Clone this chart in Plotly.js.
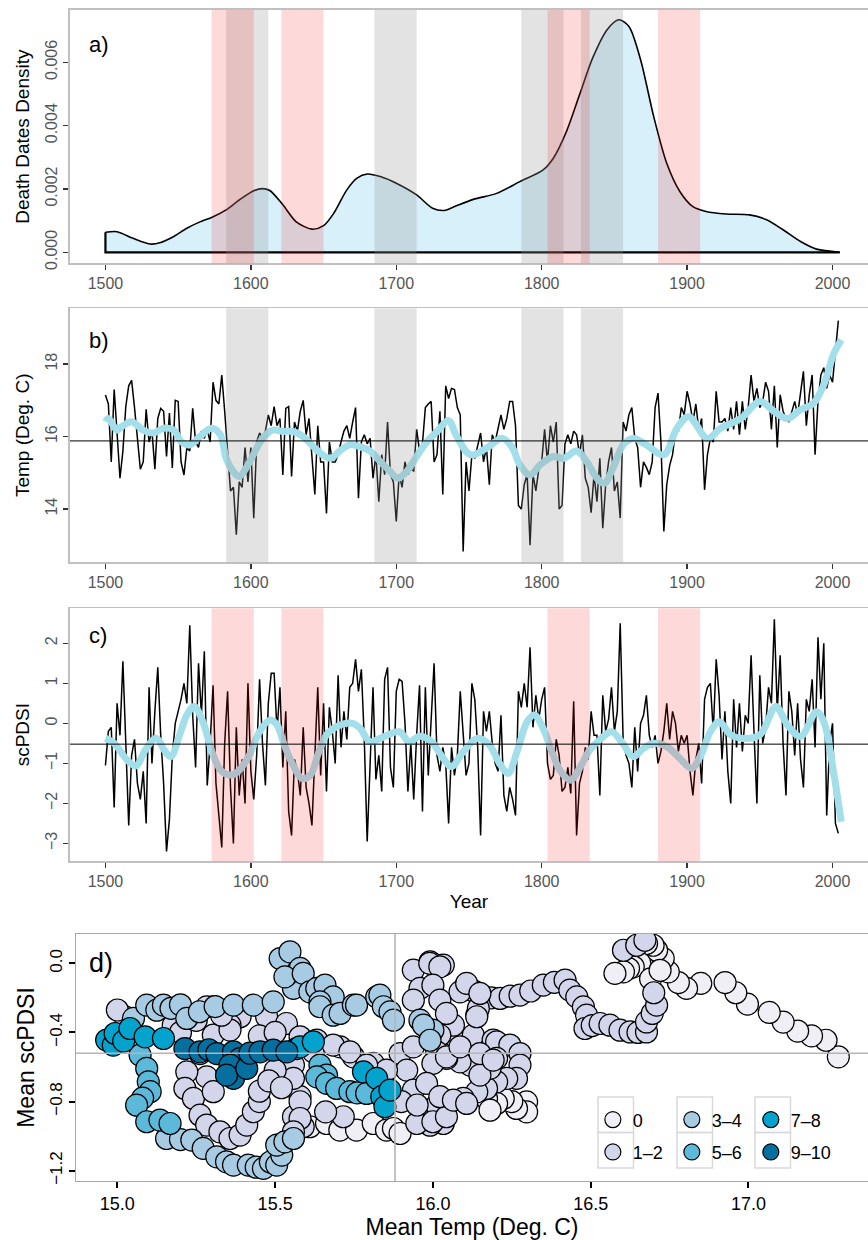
<!DOCTYPE html>
<html><head><meta charset="utf-8">
<script src="https://cdn.plot.ly/plotly-3.0.1.min.js"></script>
<style>html,body{margin:0;padding:0;background:#fff}#chart{width:868px;height:1240px}</style>
</head><body><div id="chart"></div>
<script>
// ---------- DATA ----------
// Cold (gray) and drought (pink) periods, years
const coldStart = [1583, 1685, 1786, 1827];
const coldEnd   = [1612, 1714, 1815, 1856];
const droughtStart = [1573, 1621, 1804, 1880];
const droughtEnd   = [1602, 1650, 1833, 1909];

// a) death dates density
const densYears = [1500,1508,1519,1531,1538,1547,1556,1565,1573,1583,1592,1602,1608,1613,1622,1631,1642,1650,1657,1666,1673,1680,1689,1700,1714,1725,1733,1739,1753,1769,1785,1801,1808,1817,1826,1835,1845,1853,1860,1868,1877,1886,1895,1904,1913,1927,1943,1955,1966,1978,1989,2005];
const densVals  = [0.00063,0.00065,0.00044,0.00026,0.00031,0.0005,0.00076,0.00096,0.0011,0.00134,0.00165,0.00194,0.00201,0.00195,0.0015,0.00097,0.00073,0.00084,0.00123,0.00197,0.00234,0.00247,0.00239,0.00218,0.00181,0.00139,0.00132,0.00142,0.00167,0.00186,0.00223,0.0026,0.00297,0.00381,0.00497,0.00613,0.00703,0.00734,0.00713,0.00608,0.00429,0.00281,0.00192,0.00144,0.00129,0.00121,0.00118,0.00102,0.00071,0.00034,0.0001,0.0];

// b) temperature, every 2 years from 1500
const seriesStart = 1500, seriesStep = 2;
const tempVals = [
17.15,16.9,15.3,17.3,16.1,14.85,15.6,16.83,17.4,17.55,
16.8,15.95,15.1,15.3,16.75,15.85,16.15,15.1,16.5,16.78,
16.7,15.45,16.65,15.13,17.0,16.97,15.3,14.94,15.7,15.6,
16.78,15.85,15.7,16.15,15.95,16.2,15.85,17.5,17.0,16.9,
17.7,16.7,15.7,14.5,14.6,13.29,14.75,14.6,15.7,14.75,
15.7,13.75,15.85,16.1,15.95,16.15,16.6,16.3,16.83,16.3,
16.5,14.94,16.78,16.83,14.9,16.4,16.15,16.7,17.0,16.05,
16.5,15.4,14.4,16.3,15.3,15.3,13.88,15.85,15.3,15.3,
15.5,15.85,16.15,16.3,15.95,16.4,16.8,14.3,15.85,16.05,
15.8,15.95,14.85,15.5,14.2,15.5,14.95,16.4,14.95,14.75,
13.66,14.95,14.6,15.3,14.95,15.1,15.05,16.2,15.6,15.8,
16.8,16.9,16.97,15.3,15.5,16.7,14.4,17.4,17.05,17.33,
17.3,16.8,16.6,12.83,15.3,14.5,15.5,15.4,15.8,16.1,
15.3,15.7,14.67,16.05,15.85,16.2,16.6,16.2,16.5,16.97,
16.97,16.3,14.1,14.0,14.67,14.95,13.0,14.95,14.5,15.1,
15.3,16.2,15.3,16.3,15.85,16.4,14.0,14.1,15.8,16.05,
15.8,16.15,16.05,15.5,16.05,14.85,14.6,13.9,14.95,14.2,
15.4,13.47,14.67,15.3,15.7,14.5,14.75,13.75,16.4,16.15,
16.6,16.8,15.95,15.7,14.6,15.3,15.15,14.95,15.3,16.8,
17.2,15.85,13.38,14.67,15.2,15.5,16.15,16.15,16.8,16.6,
17.25,16.9,16.4,16.9,16.2,16.5,14.53,15.5,15.95,15.85,
17.25,16.4,16.4,16.5,16.15,16.8,16.2,16.97,16.05,16.97,
16.2,16.8,17.7,16.97,17.33,16.8,16.97,17.5,17.25,16.2,
17.4,15.7,17.15,16.7,16.5,16.4,16.7,16.97,16.6,17.15,
17.8,16.3,17.15,17.7,15.5,16.97,17.7,17.9,17.33,17.7,
17.5,18.35,19.2];
const tempSmoothYears = [1500,1502,1508,1512,1518,1526,1533,1540,1547,1552,1558,1565,1573,1579,1583,1588,1592,1598,1604,1608,1615,1622,1629,1636,1644,1651,1655,1661,1668,1675,1682,1689,1696,1701,1707,1714,1721,1728,1736,1741,1751,1762,1773,1780,1785,1792,1799,1808,1815,1824,1831,1838,1843,1849,1856,1863,1872,1884,1893,1901,1914,1923,1937,1950,1960,1969,1978,1987,1994,2001,2006];
const tempSmoothVals  = [16.41,16.5,16.18,16.3,16.41,16.18,16.1,16.23,16.18,15.86,15.77,16.0,16.23,16.05,15.4,15.03,14.9,15.22,15.68,15.95,16.18,16.14,16.14,16.0,15.68,15.45,15.4,15.6,15.77,15.72,15.6,15.31,15.03,14.85,15.03,15.45,15.86,16.14,16.44,16.05,15.5,15.68,15.95,15.68,15.22,14.94,15.22,15.45,15.4,15.6,15.31,14.85,14.71,15.13,15.77,15.95,15.77,15.5,16.23,16.55,15.95,16.23,16.5,16.97,16.69,16.5,16.74,16.92,17.43,18.3,18.67];
const tempMean = 15.88;

// c) scPDSI, every 2 years from 1500
const pdsiVals = [
-1.05,-0.2,-0.1,-2.1,0.5,-0.3,1.55,-0.6,-2.55,-0.8,
-0.4,-1.5,-1.9,-1.2,-2.5,0.9,-1.0,0.3,1.4,-0.3,
-1.5,-3.2,-2.4,-0.8,0.0,0.3,0.6,1.0,0.5,2.45,
0.2,-1.1,1.5,0.2,1.8,-1.55,-0.5,0.95,-1.5,-2.3,
-3.1,-0.5,0.8,-1.6,-3.0,-0.1,-1.8,-0.9,-2.0,1.0,
-1.2,-1.9,-0.8,1.1,-0.5,-1.55,0.5,1.25,1.25,-0.2,
0.9,-1.1,0.3,-2.2,-2.8,-0.9,-1.2,-1.8,-0.1,-1.6,
-2.0,-2.55,-1.0,0.9,-1.3,0.5,-1.7,0.4,-0.2,-1.0,
1.2,-0.6,0.3,-0.4,0.9,1.0,1.6,0.8,1.35,-0.4,
-2.95,-1.0,0.9,-1.4,-0.8,-1.7,1.1,1.4,-1.1,-1.6,
0.8,1.1,1.05,0.0,-1.7,-0.5,-1.9,-0.3,0.95,-2.2,
0.9,-1.3,0.1,1.5,-0.8,-1.2,-0.6,-1.0,-2.5,-0.6,
-1.3,-0.8,0.8,-0.2,-1.3,-1.0,1.0,0.6,-0.6,-2.8,
0.3,-0.2,0.3,-0.5,-1.0,-1.2,0.2,-1.8,-2.2,-1.6,
-1.9,-2.3,0.8,0.4,1.0,0.4,1.9,-0.1,0.7,0.1,
0.6,0.9,-1.0,-1.4,-1.3,-0.4,-0.8,-1.7,-1.6,-1.1,
-1.75,0.55,-2.8,-1.5,-1.2,-0.6,-0.9,0.3,-0.3,-0.3,
-1.8,0.7,-0.2,0.1,0.9,-0.2,0.3,2.5,-0.4,-0.8,
-1.0,-1.6,-0.1,-1.2,0.0,0.2,0.7,-0.3,-0.6,-0.3,
-1.0,-0.7,-0.2,0.5,-0.4,0.3,0.0,-0.7,-0.3,-0.5,
-0.3,-1.2,-1.8,-0.9,-0.5,-1.5,0.6,0.9,1.0,-0.2,
1.6,0.7,-0.9,0.3,-1.2,-2.0,0.6,-0.6,0.5,-0.7,
0.2,0.0,1.7,-0.2,-2.0,1.2,-0.5,-0.1,0.9,0.5,
2.6,0.3,1.7,-0.5,-1.8,0.8,0.3,-0.8,0.5,-0.9,
-1.6,0.6,0.3,1.1,-0.6,2.15,0.6,2.0,-2.3,-0.5,
0.0,-2.5,-2.75];
const pdsiSmoothYears = [1500,1506,1515,1521,1528,1535,1541,1545,1551,1556,1561,1567,1574,1580,1587,1592,1599,1606,1613,1618,1623,1629,1635,1641,1646,1652,1659,1670,1675,1682,1689,1702,1709,1716,1724,1730,1738,1746,1756,1764,1771,1777,1783,1790,1795,1801,1807,1813,1820,1826,1833,1841,1848,1855,1863,1870,1877,1886,1895,1903,1909,1916,1922,1930,1937,1950,1961,1969,1978,1989,1994,2001,2006];
const pdsiSmoothVals  = [-0.375,-0.5,-0.92,-1.06,-0.63,-0.375,-0.7,-0.83,-0.29,0.21,0.42,0.04,-0.79,-1.2,-1.29,-1.17,-0.79,-0.21,0.08,-0.04,-0.54,-1.04,-1.375,-1.29,-0.79,-0.29,-0.08,0.0,-0.12,-0.46,-0.375,-0.21,-0.46,-0.32,-0.45,-0.75,-1.08,-0.71,-0.375,-0.54,-1.0,-1.25,-0.71,0.04,0.21,-0.125,-0.71,-1.2,-1.42,-1.125,-0.67,-0.375,-0.21,-0.46,-0.83,-0.625,-0.5,-0.58,-0.875,-1.125,-0.83,-0.21,0.04,-0.29,-0.375,-0.29,0.42,-0.04,-0.33,0.29,0.04,-1.29,-2.46];
const pdsiMean = -0.52;

// d) mean temp vs mean scPDSI, by number of events
const catLabels = ['0', '1–2', '3–4', '5–6', '7–8', '9–10'];
const catColors = ['#f1eff6', '#d3d6ea', '#a6cbe3', '#5cb9d9', '#04a3cd', '#0570a0'];
const dTemp0 = [17.285,17.246,17.2,17.156,17.11,17.066,16.997,16.96,16.926,16.849,16.804,16.778,16.746,16.73,16.709,16.698,16.677,16.656,16.635,16.62,16.604,16.577,16.69,16.72,16.297,16.297,16.265,16.25,16.223,16.202,16.17,15.61,15.663,15.705,15.758,15.811,15.853,15.875,15.896,16.065,16.0,16.065,16.139,16.191,16.181];
const dPdsi0 = [-0.541,-0.445,-0.42,-0.392,-0.34,-0.284,-0.236,-0.17,-0.111,-0.116,-0.145,-0.111,-0.049,0.028,0.076,0.105,0.115,0.0,-0.02,-0.03,-0.049,-0.058,-0.09,-0.04,-0.802,-0.86,-0.84,-0.8,-0.782,-0.811,-0.782,-0.946,-0.927,-0.965,-0.965,-0.927,-0.965,-0.956,-0.985,-0.444,-0.425,-0.416,-0.599,-0.676,-0.85];
const dTemp1 = [16.102,16.13,16.155,16.185,16.213,16.245,16.276,16.31,16.35,16.385,16.419,16.434,16.456,16.477,16.487,16.482,16.505,16.53,16.561,16.593,16.625,16.65,16.677,16.677,16.695,16.709,16.70,16.604,16.646,16.672,
15.991,16.033,16.086,16.139,16.144,16.065,16.022,16.128,15.938,15.99,16.022,15.959,16.0,15.938,16.022,16.043,16.107,16.149,16.139,16.191,
16.202,16.244,16.276,16.276,16.265,16.234,16.202,16.17,16.139,16.096,16.054,16.012,16.033,15.991,
16.118,16.086,16.044,16.012,16.202,16.181,16.149,15.896,15.938,16.0,16.043,16.086,16.149,16.191,15.917,
15.579,15.558,15.589,15.716,15.949,16.0,16.043,15.938,15.98,16.022,16.065,16.107,
15.024,15.177,15.304,15.389,15.357,15.304,15.283,15.262,15.283,15.357,15.473,15.536,15.579,15.632,15.706,15.748,15.811,15.853,15.621,15.684,15.737,15.79,
15.22,15.214,15.241,15.262,15.283,15.325,15.357,15.389,15.41,15.431,15.304,15.45,
15.558,15.558,15.579,15.579,15.558,
15.0,15.2,15.25,15.33,15.45,15.5,15.45,15.5,15.48,15.52,15.9,15.95,15.66];
const dPdsi1 = [-0.136,-0.16,-0.184,-0.2,-0.203,-0.19,-0.184,-0.16,-0.126,-0.11,-0.097,-0.155,-0.194,-0.252,-0.3,-0.377,-0.36,-0.348,-0.358,-0.387,-0.397,-0.40,-0.397,-0.339,-0.29,-0.242,-0.17,0.076,0.105,0.134,
0.009,-0.01,-0.165,-0.3,-0.261,-0.358,-0.416,-0.416,-0.039,0.0,-0.02,-0.145,-0.126,-0.213,-0.213,-0.29,-0.116,-0.174,-0.309,-0.444,
-0.454,-0.473,-0.522,-0.589,-0.666,-0.666,-0.686,-0.724,-0.744,-0.782,-0.802,-0.821,-0.927,-0.937,
-0.589,-0.57,-0.55,-0.512,-0.55,-0.608,-0.647,-0.522,-0.483,-0.579,-0.541,-0.483,-0.522,-0.56,-0.618,
-0.772,-0.888,-0.946,-0.888,-0.927,-0.917,-0.888,-0.734,-0.695,-0.772,-0.792,-0.811,
-0.309,-0.358,-0.251,-0.309,-0.358,-0.415,-0.252,-0.522,-0.657,-0.386,-0.309,-0.348,-0.425,-0.444,-0.483,-0.541,-0.579,-0.618,-0.512,-0.473,-0.512,-0.589,
-0.628,-0.724,-0.782,-0.879,-0.936,-0.975,-1.014,-0.994,-0.936,-0.859,-0.743,-0.80,
-0.589,-0.666,-0.801,-0.898,-0.975,
-0.27,-0.40,-0.33,-0.30,-0.42,-0.40,-0.74,-0.62,-0.68,-0.72,-0.8,-0.82,-0.86];
const dTemp2 = [15.051,15.093,15.125,15.146,15.17,15.2,15.22,15.26,15.31,15.368,15.431,15.494,15.558,15.537,15.516,15.547,15.579,15.531,15.589,15.61,15.632,15.658,15.684,15.642,15.642,15.684,15.706,15.748,15.758,15.822,15.832,15.843,15.864,15.875,15.959,16.0,15.97,15.991,
15.156,15.2,15.236,15.272,15.315,15.346,15.368,15.415,15.44,15.463,15.485,15.505,15.521,15.505,15.531,15.558];
const dPdsi2 = [-0.319,-0.242,-0.271,-0.242,-0.26,-0.24,-0.319,-0.28,-0.25,-0.242,-0.242,-0.223,-0.145,-0.068,0.028,0.067,-0.029,-0.078,-0.058,-0.165,-0.145,-0.126,-0.194,-0.223,-0.251,-0.3,-0.29,-0.242,-0.242,-0.194,-0.184,-0.251,-0.281,-0.329,-0.329,-0.387,-0.358,-0.445,
-1.014,-1.02,-1.023,-1.071,-1.12,-1.149,-1.168,-1.168,-1.18,-1.187,-1.15,-1.168,-1.11,-1.052,-1.033,-1.014];
const dTemp3 = [15.072,15.093,15.098,15.104,15.08,15.061,15.093,15.135,15.167,15.642,15.663,15.632,15.663,15.695,15.737,15.76,15.79];
const dPdsi3 = [-0.531,-0.608,-0.686,-0.743,-0.78,-0.821,-0.917,-0.907,-0.927,-0.589,-0.647,-0.657,-0.695,-0.724,-0.743,-0.75,-0.753];
const dTemp4 = [14.966,14.987,14.993,15.02,15.04,15.088,15.146,15.568,15.579,15.621,15.78,15.822,15.838,15.848,15.864];
const dPdsi4 = [-0.444,-0.473,-0.406,-0.45,-0.377,-0.425,-0.435,-0.493,-0.483,-0.454,-0.628,-0.666,-0.772,-0.83,-0.734];
const dTemp5 = [15.214,15.262,15.29,15.315,15.368,15.389,15.357,15.368,15.346,15.41,15.42,15.452,15.494,15.537];
const dPdsi5 = [-0.493,-0.512,-0.5,-0.522,-0.512,-0.551,-0.589,-0.666,-0.647,-0.608,-0.52,-0.512,-0.502,-0.512];
const dTemps = [dTemp0, dTemp1, dTemp2, dTemp3, dTemp4, dTemp5];
const dPdsis = [dPdsi0, dPdsi1, dPdsi2, dPdsi3, dPdsi4, dPdsi5];

// ---------- STYLE ----------
const FONT = 'Liberation Sans, Arial, Helvetica, sans-serif';
const GRAY_FILL = 'rgba(150,150,150,0.27)';
const PINK_FILL = 'rgba(240,20,20,0.16)';
const SMOOTH = '#a3dfea';
const W = 868, H = 1240;

const traces = [];
// a)
traces.push({x: densYears, y: densVals, xaxis: 'x', yaxis: 'y', type: 'scatter', mode: 'lines',
  fill: 'tozeroy', fillcolor: '#d8f0fa', line: {color: '#000', width: 1.6, shape: 'spline', smoothing: 0.8},
  showlegend: false, hoverinfo: 'skip'});
traces.push({x: [densYears[0], densYears[0], densYears[densYears.length - 1]],
  y: [densVals[0], 0, 0], xaxis: 'x', yaxis: 'y', type: 'scatter', mode: 'lines',
  line: {color: '#000', width: 2.2}, showlegend: false, hoverinfo: 'skip'});
// b)
traces.push({y: tempVals, x0: seriesStart, dx: seriesStep, xaxis: 'x2', yaxis: 'y2', type: 'scatter', mode: 'lines',
  line: {color: '#000', width: 1.5}, showlegend: false, hoverinfo: 'skip'});
traces.push({x: tempSmoothYears, y: tempSmoothVals, xaxis: 'x2', yaxis: 'y2', type: 'scatter', mode: 'lines',
  line: {color: SMOOTH, width: 7, shape: 'spline', smoothing: 1}, showlegend: false, hoverinfo: 'skip'});
// c)
traces.push({y: pdsiVals, x0: seriesStart, dx: seriesStep, xaxis: 'x3', yaxis: 'y3', type: 'scatter', mode: 'lines',
  line: {color: '#000', width: 1.5}, showlegend: false, hoverinfo: 'skip'});
traces.push({x: pdsiSmoothYears, y: pdsiSmoothVals, xaxis: 'x3', yaxis: 'y3', type: 'scatter', mode: 'lines',
  line: {color: SMOOTH, width: 7, shape: 'spline', smoothing: 1}, showlegend: false, hoverinfo: 'skip'});
// d)
const legendIds = ['legend', 'legend', 'legend2', 'legend2', 'legend3', 'legend3'];
for (let i = 0; i < catLabels.length; i++) {
  traces.push({x: dTemps[i], y: dPdsis[i], xaxis: 'x4', yaxis: 'y4', type: 'scatter', mode: 'markers',
    name: catLabels[i], legend: legendIds[i], legendgroup: 'g' + i,
    marker: {size: 22, color: catColors[i], line: {color: '#000', width: 1.2}}, hoverinfo: 'skip'});
}

// shapes
const shapes = [];
function rect(xref, yref, x0, x1, color) {
  shapes.push({type: 'rect', xref: xref, yref: yref + ' domain', x0: x0, x1: x1, y0: 0, y1: 1,
    fillcolor: color, line: {width: 0}, layer: 'above'});
}
for (let i = 0; i < coldStart.length; i++) {
  rect('x', 'y', coldStart[i], coldEnd[i], GRAY_FILL);
  rect('x2', 'y2', coldStart[i], coldEnd[i], GRAY_FILL);
}
for (let i = 0; i < droughtStart.length; i++) {
  rect('x', 'y', droughtStart[i], droughtEnd[i], PINK_FILL);
  rect('x3', 'y3', droughtStart[i], droughtEnd[i], PINK_FILL);
}
shapes.push({type: 'line', xref: 'x2 domain', x0: 0, x1: 1, yref: 'y2', y0: tempMean, y1: tempMean, line: {color: '#000', width: 1}, layer: 'above'});
shapes.push({type: 'line', xref: 'x3 domain', x0: 0, x1: 1, yref: 'y3', y0: pdsiMean, y1: pdsiMean, line: {color: '#000', width: 1}, layer: 'above'});
shapes.push({type: 'line', xref: 'x4 domain', x0: 0, x1: 1, yref: 'y4', y0: pdsiMean, y1: pdsiMean, line: {color: '#b5b5b5', width: 1.6}, layer: 'above'});
shapes.push({type: 'line', xref: 'x4', x0: tempMean, x1: tempMean, yref: 'y4 domain', y0: 0, y1: 1, line: {color: '#b5b5b5', width: 1.6}, layer: 'above'});
// legend key frames (decoration, paper coordinates)
const keyLeft = [598, 677, 755], keyTop = [1097, 1132.5], keySize = 35.5;
keyLeft.forEach(function (lx) {
  keyTop.forEach(function (ty) {
    shapes.push({type: 'rect', xref: 'paper', yref: 'paper', x0: lx / W, x1: (lx + keySize) / W,
      y0: 1 - (ty + keySize) / H, y1: 1 - ty / H, line: {color: '#d9d9d9', width: 1.5}, fillcolor: 'rgba(0,0,0,0)', layer: 'above'});
  });
});

// axes
const yearTicks = [1500, 1600, 1700, 1800, 1900, 2000];
function xTop(anchor, extra) {
  return Object.assign({anchor: anchor, domain: [0.0806, 1], range: [1475.6, 2024.4], tickvals: yearTicks,
    ticks: 'outside', ticklen: 5, tickwidth: 1.5, tickcolor: '#333',
    showline: true, mirror: true, linecolor: '#c0c0c0', linewidth: 1.6,
    showgrid: false, zeroline: false, tickfont: {family: FONT, size: 16, color: '#555'}}, extra || {});
}
function yTop(anchor, dom, rng, tv, title, extra) {
  return Object.assign({anchor: anchor, domain: dom, range: rng, tickvals: tv, tickangle: -90,
    ticks: 'outside', ticklen: 5, tickwidth: 1.5, tickcolor: '#333',
    showline: true, mirror: true, linecolor: '#c0c0c0', linewidth: 1.6,
    showgrid: false, zeroline: false, tickfont: {family: FONT, size: 16, color: '#555'},
    title: {text: title, font: {family: FONT, size: 19, color: '#000'}, standoff: 8}}, extra || {});
}

const legendBase = {xanchor: 'left', yanchor: 'top', bgcolor: 'rgba(255,255,255,0)',
  font: {family: FONT, size: 18, color: '#000'}, tracegroupgap: 6, traceorder: 'grouped', itemsizing: 'trace'};

const layout = {
  width: W, height: H, margin: {l: 0, r: 0, t: 0, b: 0},
  paper_bgcolor: '#fff', plot_bgcolor: '#fff', font: {family: FONT},
  xaxis: xTop('y'),
  yaxis: yTop('x', [0.78766, 0.99194], [-0.000348, 0.00765], [0, 0.002, 0.004, 0.006], 'Death Dates Density', {tickformat: '.3f'}),
  xaxis2: xTop('y2'),
  yaxis2: yTop('x2', [0.54653, 0.75137], [12.53, 19.54], [14, 16, 18], 'Temp (Deg. C)'),
  xaxis3: xTop('y3', {title: {text: 'Year', font: {family: FONT, size: 19, color: '#000'}, standoff: 6}}),
  yaxis3: yTop('x3', [0.30565, 0.50944], [-3.44, 2.875], [-3, -2, -1, 0, 1, 2], 'scPDSI'),
  xaxis4: {anchor: 'y4', domain: [0.0876, 1], range: [14.869, 17.379], tickvals: [15, 15.5, 16, 16.5, 17], tickformat: '.1f',
    ticks: 'outside', ticklen: 6, tickwidth: 2, tickcolor: '#000', showline: true, mirror: true, linecolor: '#a8a8a8', linewidth: 1.2,
    showgrid: false, zeroline: false, tickfont: {family: FONT, size: 18, color: '#000'},
    title: {text: 'Mean Temp (Deg. C)', font: {family: FONT, size: 23, color: '#000'}, standoff: 4}},
  yaxis4: {anchor: 'x4', domain: [0.04758, 0.24677], range: [-1.26, 0.17], tickvals: [-1.2, -0.8, -0.4, 0], tickformat: '.1f', tickangle: -90,
    ticks: 'outside', ticklen: 6, tickwidth: 2, tickcolor: '#000', showline: true, mirror: true, linecolor: '#a8a8a8', linewidth: 1.2,
    showgrid: false, zeroline: false, tickfont: {family: FONT, size: 17, color: '#000'},
    title: {text: 'Mean scPDSI', font: {family: FONT, size: 23, color: '#000'}, standoff: 6}},
  shapes: shapes,
  annotations: [
    {xref: 'x domain', yref: 'y domain', x: 0.021, y: 0.862, text: 'a)', showarrow: false, xanchor: 'left', yanchor: 'middle', font: {family: FONT, size: 22, color: '#000'}},
    {xref: 'x2 domain', yref: 'y2 domain', x: 0.021, y: 0.875, text: 'b)', showarrow: false, xanchor: 'left', yanchor: 'middle', font: {family: FONT, size: 22, color: '#000'}},
    {xref: 'x3 domain', yref: 'y3 domain', x: 0.021, y: 0.894, text: 'c)', showarrow: false, xanchor: 'left', yanchor: 'middle', font: {family: FONT, size: 22, color: '#000'}},
    {xref: 'x4 domain', yref: 'y4 domain', x: 0.014, y: 0.881, text: 'd)', showarrow: false, xanchor: 'left', yanchor: 'middle', font: {family: FONT, size: 27, color: '#000'}}
  ],
  legend:  Object.assign({x: 0.683, y: 0.1118}, legendBase),
  legend2: Object.assign({x: 0.774, y: 0.1118}, legendBase),
  legend3: Object.assign({x: 0.865, y: 0.1118}, legendBase)
};

Plotly.newPlot('chart', traces, layout, {displayModeBar: false, staticPlot: true});
</script></body></html>
